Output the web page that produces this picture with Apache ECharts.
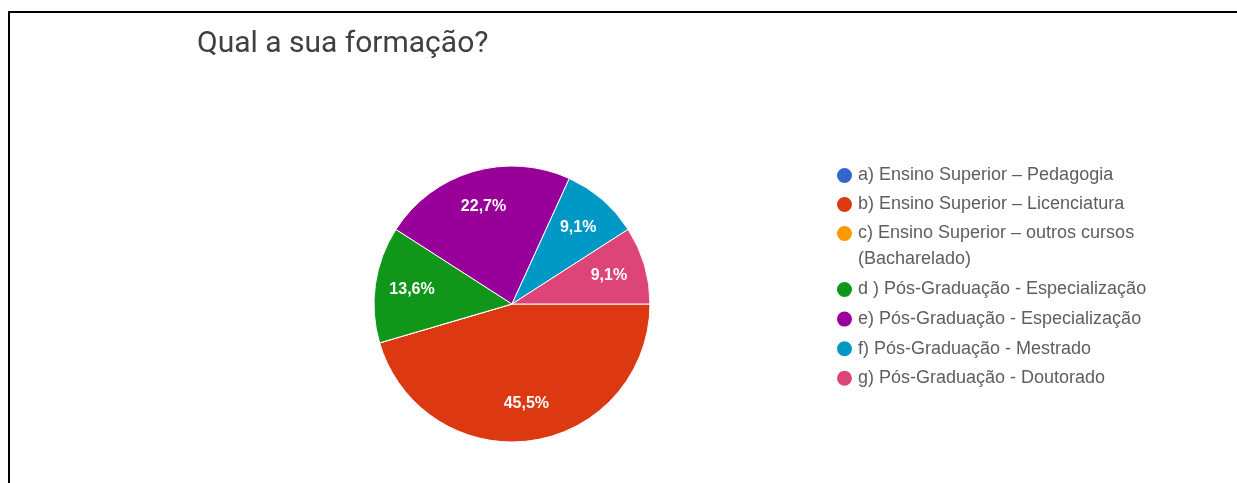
<!DOCTYPE html>
<html>
<head>
<meta charset="utf-8">
<script src="https://cdn.jsdelivr.net/npm/echarts@6/dist/echarts.min.js"></script>
<style>
  html, body { margin: 0; padding: 0; background: #fff; }
  #chart { width: 1237px; height: 483px; }
</style>
</head>
<body>
<div id="chart"></div>
<script>
// Survey answers: "Qual a sua formação?" (22 responses)
const titleText = 'Qual a sua formação?';
const categories = [
  'a) Ensino Superior – Pedagogia',
  'b) Ensino Superior – Licenciatura',
  'c) Ensino Superior – outros cursos (Bacharelado)',
  'd ) Pós-Graduação - Especialização',
  'e) Pós-Graduação - Especialização',
  'f) Pós-Graduação - Mestrado',
  'g) Pós-Graduação - Doutorado'
];
const responses = [0, 10, 0, 3, 5, 2, 2];
const palette = ['#3366cc', '#dc3912', '#ff9900', '#109618', '#990099', '#0099c6', '#dd4477'];

const FONT = 'Arial, "Liberation Sans", sans-serif';
const LEGEND_COLOR = '#5e5e5e';
const CENTER = [512, 304];
const R = 138;

const pieData = categories.map((name, i) => ({
  name,
  value: responses[i],
  itemStyle: { color: palette[i] }
}));

// The long "c)" entry wraps: its parenthetical goes on a second line
// below the marker row, so the legend is split around it.
const WRAP_AT = ' (';
const firstLine = name => name.split(WRAP_AT)[0];
const wrapped = categories.find(n => n.indexOf(WRAP_AT) > 0);
const wrappedTail = wrapped.slice(wrapped.indexOf(WRAP_AT) + 1);
const wrapIndex = categories.indexOf(wrapped);

const legendBase = {
  orient: 'vertical',
  icon: 'circle',
  itemWidth: 17,
  itemHeight: 17,
  selectedMode: false,
  formatter: firstLine,
  textStyle: { fontFamily: FONT, fontSize: 18, color: LEGEND_COLOR }
};

const chart = echarts.init(document.getElementById('chart'), null, { renderer: 'canvas' });

chart.setOption({
  animation: false,
  backgroundColor: '#ffffff',
  title: {
    text: titleText,
    left: 192,
    top: 24,
    textStyle: {
      fontFamily: 'Roboto, sans-serif',
      fontSize: 30,
      fontWeight: 'normal',
      color: '#404040'
    }
  },
  legend: [
    Object.assign({}, legendBase, {
      left: 830, top: 161, itemGap: 10,
      data: categories.slice(0, wrapIndex + 1)
    }),
    Object.assign({}, legendBase, {
      left: 830, top: 275, itemGap: 10.6,
      data: categories.slice(wrapIndex + 1)
    })
  ],
  graphic: [
    {
      type: 'polyline',
      silent: true,
      shape: { points: [[9, 483], [9, 12], [1237, 12]] },
      style: { stroke: '#000', lineWidth: 2, fill: null }
    },
    {
      type: 'text',
      silent: true,
      x: 858,
      y: 259,
      style: {
        text: wrappedTail,
        font: '18px ' + FONT,
        fill: LEGEND_COLOR,
        verticalAlign: 'middle'
      }
    }
  ],
  series: [
    {
      name: 'slices',
      type: 'pie',
      center: CENTER,
      radius: R,
      startAngle: 0,
      clockwise: true,
      avoidLabelOverlap: false,
      emphasis: { disabled: true },
      label: { show: false },
      labelLine: { show: false },
      itemStyle: { borderColor: '#ffffff', borderWidth: 1 },
      data: pieData
    },
    {
      // percentage labels, set further out than the default inside position
      name: 'labels',
      type: 'pie',
      center: CENTER,
      radius: [58, R],
      startAngle: 0,
      clockwise: true,
      silent: true,
      avoidLabelOverlap: false,
      percentPrecision: 1,
      emphasis: { disabled: true },
      itemStyle: { color: 'rgba(0,0,0,0)', borderWidth: 0 },
      labelLine: { show: false },
      label: {
        show: true,
        position: 'inside',
        fontFamily: FONT,
        fontSize: 16,
        fontWeight: 'bold',
        color: '#ffffff',
        formatter: p => p.value > 0 ? String(p.percent.toFixed(1)).replace('.', ',') + '%' : ''
      },
      data: categories.map((name, i) => ({ name, value: responses[i] }))
    }
  ]
});
</script>
</body>
</html>
